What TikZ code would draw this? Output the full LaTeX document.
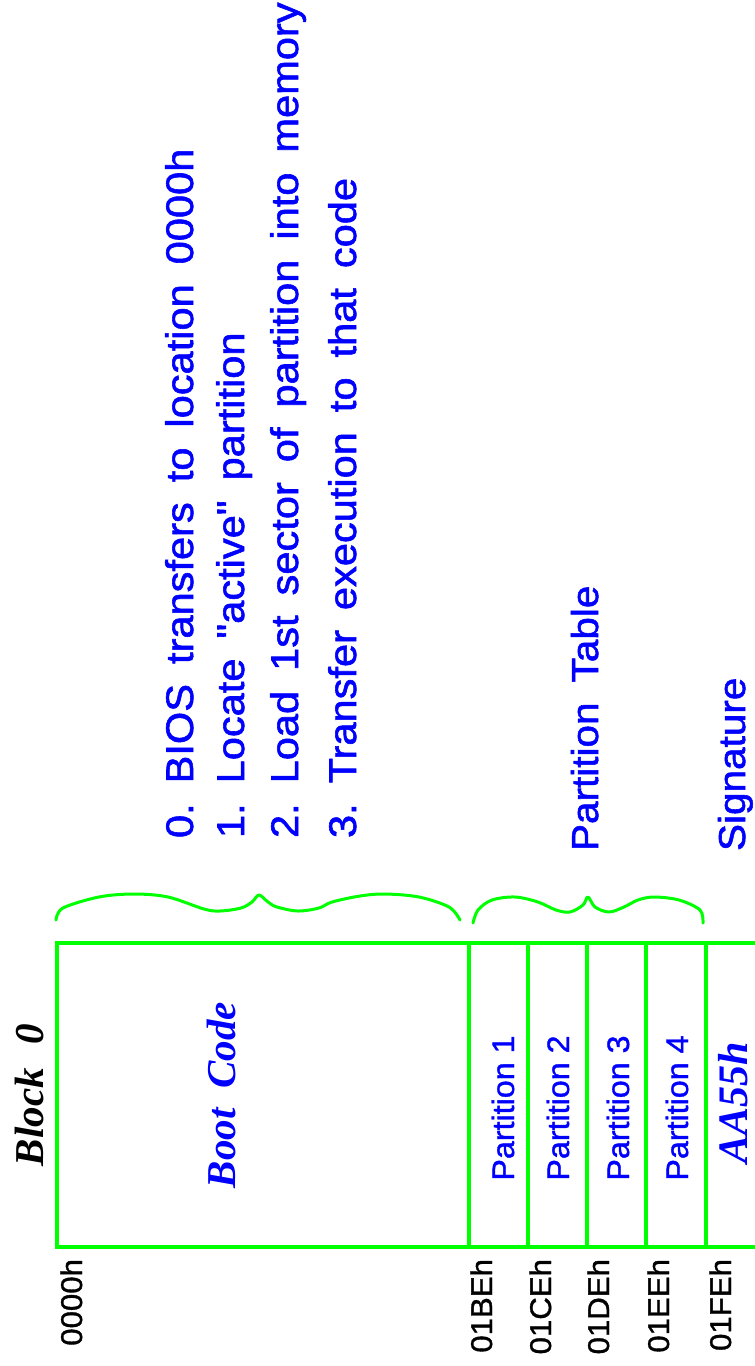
\documentclass[tikz,border=0pt]{standalone}
\usepackage{fontspec}
\setmainfont{Liberation Sans}
\newfontfamily\serifbi{Liberation Serif}
\newfontfamily\notesans{Liberation Sans}[FakeStretch=1.08,FakeBold=1.5]
\newfontfamily\labelsans{Liberation Sans}[FakeStretch=1.04,FakeBold=1.2]
\definecolor{boxgreen}{RGB}{0,255,0}
\definecolor{txtblue}{RGB}{0,0,255}
\newcommand\notefont{\notesans\fontsize{38.5}{46}\selectfont\frenchspacing\spaceskip=20pt\relax}
\newcommand\headfont{\notesans\fontsize{37.5}{45}\selectfont\frenchspacing\spaceskip=20pt\relax}
\newcommand\addrfont{\labelsans\fontsize{30}{36}\selectfont}
\newcommand\partfont{\labelsans\fontsize{31}{37}\selectfont}
\newcommand\titlefont{\serifbi\bfseries\itshape\fontsize{41}{49}\selectfont}

\begin{document}
\begin{tikzpicture}[x=1pt,y=-1pt,
  frame/.style={draw=boxgreen,line width=4pt},
  brace/.style={draw=boxgreen,line width=3pt,line cap=round,line join=round},
  vlabel/.style={rotate=90,inner sep=0pt,outer sep=0pt},
  addr/.style={vlabel,anchor=base east,text=black,font=\addrfont},
  note/.style={vlabel,anchor=base west,text=txtblue,font=\notefont},
  head/.style={note,font=\headfont},
  part/.style={vlabel,anchor=base,text=txtblue,font=\partfont},
  title/.style={vlabel,anchor=base,font=\titlefont}
]
\useasboundingbox (0,0) rectangle (755,1366);

% sector layout: outer frame and field dividers
\draw[frame] (760,943) -- (57,943) -- (57,1247) -- (760,1247);
\foreach \x in {469,528,587,646,706}
  \draw[frame] (\x,943) -- (\x,1247);

% field titles
\node[title] (blk) at (43,1095) {Block\hspace{24pt}0};
\node[title,text=txtblue] (boot) at (235,1095) {Boot\hspace{20pt}Code};
\node[part] (p1) at (514,1108) {Partition 1};
\node[part] (p2) at (569,1108) {Partition 2};
\node[part] (p3) at (629,1108) {Partition 3};
\node[part] (p4) at (688,1108) {Partition 4};
\node[title,text=txtblue,font=\serifbi\bfseries\itshape\fontsize{42}{50}\selectfont] (sig) at (747,1103) {AA55h};

% byte offsets
\node[addr] (a0) at (82,1259) {0000h};
\node[addr] (a1) at (492,1259) {01BEh};
\node[addr] (a2) at (551,1259) {01CEh};
\node[addr] (a3) at (609,1259) {01DEh};
\node[addr] (a4) at (669,1259) {01EEh};
\node[addr] (a5) at (731,1259) {01FEh};

% braces over the boot code and the partition table
\draw[brace] plot[smooth,tension=0.55] coordinates {
  (56,920) (63,908) (99,897) (134,894) (168,897) (204,909) (220,911)
  (241,908) (252,902) (259,895) (268,902) (277,907) (298,911) (319,908)
  (332,902) (360,896) (385,894) (419,897) (449,907) (460,920)};
\draw[brace] plot[smooth,tension=0.55] coordinates {
  (473,923) (478,910) (492,900) (515,897) (538,902) (556,910) (570,912)
  (583,905) (588,897) (595,907) (609,912) (624,907) (638,900) (654,897)
  (679,900) (700,910) (703,923)};

% descriptions
\node[note] (n0) at (193,838) {0. BIOS transfers to location 0000h};
\node[note] (n1) at (244,838) {1. Locate \symbol{34}active\symbol{34} partition};
\node[note] (n2) at (298,838) {2. Load 1st sector of partition into memory};
\node[note] (n3) at (356,838) {3. Transfer execution to that code};
\node[head] (pt) at (598,851) {Partition Table};
\node[head] (sg) at (745,851) {Signature};
\end{tikzpicture}
\end{document}
